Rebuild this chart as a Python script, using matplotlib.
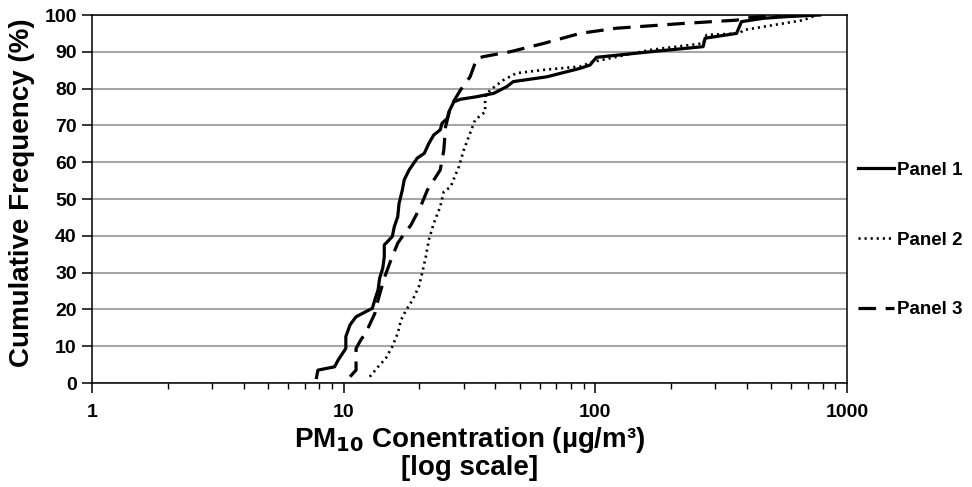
import numpy as np
import matplotlib
matplotlib.use('Agg')
import matplotlib.pyplot as plt
from matplotlib.ticker import LogLocator, NullFormatter, FixedLocator

plt.rcParams['font.family'] = ['Liberation Sans', 'DejaVu Sans']
plt.rcParams['font.weight'] = 'bold'

# PM10 concentration (ug/m3) vs cumulative frequency (%)
p1_x = [7.8, 7.9, 9.2, 9.5, 10.2, 10.2, 10.6, 11.2, 13.0, 13.3, 13.7, 13.9, 14.3,
        14.5, 14.5, 15.6, 15.9, 16.4, 16.6, 17.1, 17.4, 18.2, 19.6, 20.9, 21.8,
        22.8, 24.2, 24.6, 25.8, 26.2, 27.4, 29.1, 33.8, 39.4, 44.4, 47.2, 64.1,
        86.9, 95.2, 101, 165, 268, 273, 364, 381, 465, 558, 780]
p1_y = [1.5, 3.5, 4.4, 6.2, 9.4, 12.6, 15.8, 18.0, 20.3, 22.6, 25.3, 28.5, 31.2,
        34.3, 37.5, 39.8, 42.5, 45.2, 48.8, 52.4, 55.2, 57.9, 61.1, 62.4, 65.1,
        67.4, 68.8, 70.6, 71.9, 73.7, 76.4, 77.1, 77.8, 78.7, 80.5, 81.9, 83.2,
        85.5, 86.4, 88.5, 90.0, 91.4, 93.7, 95.0, 98.2, 99.1, 99.5, 100]

p2_x = [12.7, 13.7, 14.7, 15.6, 16.4, 16.9, 17.7, 18.8, 19.9, 20.5, 21.2, 21.8,
        22.8, 24.2, 25.0, 26.6, 28.7, 30.0, 31.8, 33.3, 36.5, 36.5, 38.2, 43.1,
        48.6, 62.5, 86.9, 98.1, 165, 268, 277, 375, 387, 670, 760]
p2_y = [1.7, 4.4, 6.7, 9.9, 13.5, 17.1, 19.8, 22.6, 26.2, 29.8, 34.3, 38.9, 43.4,
        47.9, 52.0, 53.3, 58.8, 63.3, 67.9, 71.5, 73.7, 77.8, 79.6, 82.3, 84.2,
        85.1, 86.0, 87.3, 90.5, 92.3, 94.6, 95.0, 95.9, 98.6, 100]

p3_x = [10.6, 11.2, 11.2, 11.7, 12.3, 13.3, 13.7, 14.5, 15.4, 16.4, 17.1, 18.5,
        20.2, 21.5, 24.2, 25.0, 25.4, 26.6, 29.1, 31.8, 33.8, 36.0, 45.8, 62.5,
        86.9, 121, 223, 364, 387, 541]
p3_y = [1.7, 3.5, 9.4, 11.7, 13.9, 18.9, 22.6, 28.5, 33.4, 38.0, 39.8, 42.9,
        47.9, 52.4, 57.9, 63.3, 69.6, 75.1, 79.6, 83.2, 88.2, 88.7, 90.0, 92.3,
        95.0, 96.4, 97.7, 98.6, 99.1, 100]

fig = plt.figure(figsize=(9.72, 4.87), dpi=100)
ax = fig.add_axes([92/972, 1-383/487, (847-92)/972, (383-15)/487])

ax.plot(p1_x, p1_y, color='black', lw=2.3, ls='-', label='Panel 1')
ax.plot(p2_x, p2_y, color='black', lw=1.9, ls=(0, (0.8, 1.5)), label='Panel 2')
ax.plot(p3_x, p3_y, color='black', lw=2.3, ls=(0, (5.5, 3)), label='Panel 3')

ax.set_xscale('log')
ax.set_xlim(1, 1000)
ax.set_ylim(0, 100)
ax.yaxis.set_major_locator(FixedLocator(np.arange(0, 101, 10)))
ax.xaxis.set_major_locator(FixedLocator([1, 10, 100, 1000]))
ax.xaxis.set_minor_locator(LogLocator(base=10, subs=np.arange(2, 10)))
ax.xaxis.set_minor_formatter(NullFormatter())
ax.set_xticklabels(['1', '10', '100', '1000'])

ax.grid(axis='y', color='#a6a6a6', lw=1.5)
ax.set_axisbelow(True)
for s in ax.spines.values():
    s.set_linewidth(1.1)
    s.set_color('black')

ax.tick_params(axis='both', which='major', direction='out', length=7, width=1.1,
               labelsize=14, pad=4)
ax.tick_params(axis='x', which='minor', direction='out', length=4, width=1)
ax.tick_params(axis='x', which='major', pad=8)
for lab in ax.get_xticklabels() + ax.get_yticklabels():
    lab.set_fontweight('bold')

ax.set_ylabel('Cumulative Frequency (%)', fontsize=20, fontweight='bold')
ax.yaxis.set_label_coords(-0.076, 0.518)
ax.set_xlabel('PM$_{\\mathbf{10}}$ Conentration (\u00b5g/m\u00b3)\n[log scale]',
              fontsize=20, fontweight='bold', linespacing=1.0)
ax.xaxis.set_label_coords(0.5, -0.115)

fig.legend(loc='center left', bbox_to_anchor=(0.873, 0.507), frameon=False,
           prop={'weight': 'bold', 'size': 13.5}, handlelength=1.9,
           handletextpad=0.2, labelspacing=2.8, borderpad=0)

fig.savefig('out.png', dpi=100)
